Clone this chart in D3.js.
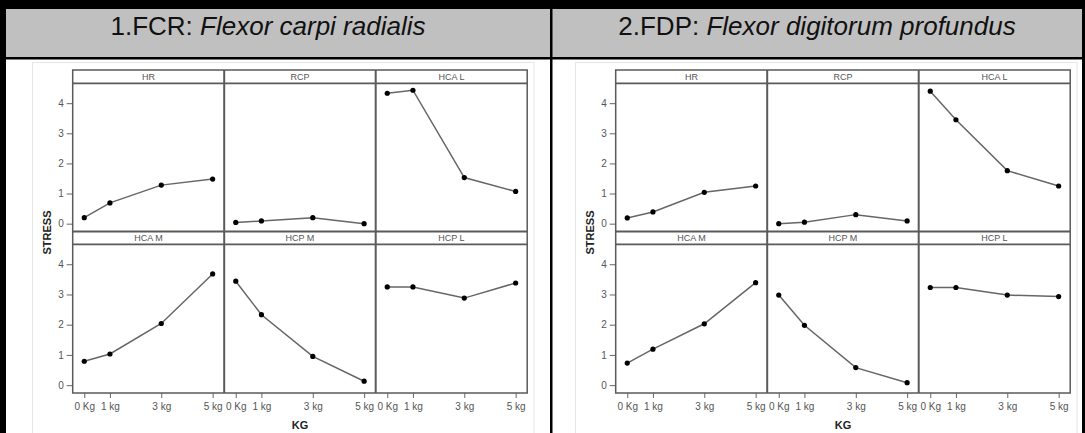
<!DOCTYPE html>
<html>
<head>
<meta charset="utf-8">
<script src="https://cdn.jsdelivr.net/npm/d3@7"></script>
<style>
  body { margin: 0; background: #fff; }
  svg { display: block; font-family: "Liberation Sans", Arial, sans-serif; }
</style>
</head>
<body>
<svg id="chart" width="1085" height="433"></svg>
<script>
// ---------- data ----------
const kgValues = [0, 1, 3, 5];
const kgTickLabels = ["0 Kg", "1 kg", "3 kg", "5 kg"];
const stressTicks = [0, 1, 2, 3, 4];
const panelNames = ["HR", "RCP", "HCA L", "HCA M", "HCP M", "HCP L"];

const chartCodes = ["1.FCR: ", "2.FDP: "];
const chartNames = ["Flexor carpi radialis", "Flexor digitorum profundus"];

// FCR: Flexor carpi radialis
const fcrHR   = [0.20, 0.69, 1.28, 1.48];
const fcrRCP  = [0.04, 0.09, 0.20, 0.00];
const fcrHCAL = [4.33, 4.43, 1.53, 1.07];
const fcrHCAM = [0.79, 1.03, 2.04, 3.68];
const fcrHCPM = [3.44, 2.33, 0.95, 0.13];
const fcrHCPL = [3.25, 3.25, 2.88, 3.38];

// FDP: Flexor digitorum profundus
const fdpHR   = [0.19, 0.39, 1.04, 1.25];
const fdpRCP  = [0.00, 0.05, 0.30, 0.09];
const fdpHCAL = [4.40, 3.45, 1.76, 1.25];
const fdpHCAM = [0.73, 1.19, 2.03, 3.39];
const fdpHCPM = [2.98, 1.98, 0.58, 0.08];
const fdpHCPL = [3.23, 3.23, 2.98, 2.93];

const chartSeries = [
  [fcrHR, fcrRCP, fcrHCAL, fcrHCAM, fcrHCPM, fcrHCPL],
  [fdpHR, fdpRCP, fdpHCAL, fdpHCAM, fdpHCPM, fdpHCPL]
];

// ---------- layout ----------
const svg = d3.select("#chart");
const W = 1085, H = 433;

// table frame
svg.append("rect").attr("x", 0).attr("y", 0).attr("width", W).attr("height", H).attr("fill", "#fff");
svg.append("rect").attr("x", 0).attr("y", 9).attr("width", W).attr("height", 48).attr("fill", "#c0c0c0");
svg.append("rect").attr("x", 0).attr("y", 0).attr("width", W).attr("height", 9).attr("fill", "#000");
svg.append("rect").attr("x", 0).attr("y", 57).attr("width", W).attr("height", 2.5).attr("fill", "#000");
svg.append("rect").attr("x", 0).attr("y", 0).attr("width", 6).attr("height", H).attr("fill", "#000");
svg.append("rect").attr("x", 550).attr("y", 0).attr("width", 2.5).attr("height", H).attr("fill", "#000");
svg.append("rect").attr("x", 1082).attr("y", 0).attr("width", 3).attr("height", H).attr("fill", "#000");

const headerCenters = [268, 817];
chartCodes.forEach((code, i) => {
  const t = svg.append("text")
    .attr("x", headerCenters[i]).attr("y", 35)
    .attr("text-anchor", "middle")
    .attr("font-size", 26).attr("fill", "#111");
  t.append("tspan").text(code);
  t.append("tspan").attr("font-style", "italic").text(chartNames[i]);
});

const chartOffsets = [0, 543];
const L0 = 72.7, colW = 151.5;
const rowTop = [83.3, 244.3], rowBot = [231.5, 393];
const stripTop = [70, 231.5];
const frameColor = "#5a5a5a";
const textColor = "#555";

chartOffsets.forEach((dx, ci) => {
  const g = svg.append("g").attr("transform", `translate(${dx},0)`);

  // image border of the statistical output
  g.append("rect").attr("x", 32.5).attr("y", 62.5).attr("width", 501.5).attr("height", 400)
    .attr("fill", "#fff").attr("stroke", "#e6e6e6").attr("stroke-width", 1);

  const R = L0 + 3 * colW;

  chartSeries[ci].forEach((vals, pi) => {
    const col = pi % 3, row = Math.floor(pi / 3);
    const x = d3.scaleLinear().domain([-0.45, 5.45]).range([L0 + col * colW, L0 + (col + 1) * colW]);
    const y = d3.scaleLinear().domain([-0.26, 4.66]).range([rowBot[row], rowTop[row]]);
    const pts = kgValues.map((k, j) => [k, vals[j]]);

    g.append("path")
      .attr("d", d3.line().x(d => x(d[0])).y(d => y(d[1]))(pts))
      .attr("fill", "none").attr("stroke", "#666").attr("stroke-width", 1.5);
    g.selectAll(null).data(pts).enter().append("circle")
      .attr("cx", d => x(d[0])).attr("cy", d => y(d[1])).attr("r", 2.6).attr("fill", "#000");

    // strip label
    g.append("text")
      .attr("x", L0 + (col + 0.5) * colW).attr("y", (stripTop[row] + rowTop[row]) / 2 + 3.3)
      .attr("text-anchor", "middle").attr("font-size", 9).attr("fill", textColor)
      .text(panelNames[pi]);

    // y axis on first column
    if (col === 0) {
      const ax = g.append("g").attr("transform", `translate(${L0},0)`)
        .call(d3.axisLeft(y).tickValues(stressTicks).tickFormat(d3.format("d")).tickSize(6).tickPadding(3));
      ax.select(".domain").remove();
      ax.selectAll("line").attr("stroke", "#666");
      ax.selectAll("text").attr("font-size", 10).attr("fill", textColor).attr("font-family", null);
    }
    // x axis on bottom row
    if (row === 1) {
      const ax = g.append("g").attr("transform", `translate(0,${rowBot[1]})`)
        .call(d3.axisBottom(x).tickValues(kgValues).tickFormat((d, j) => kgTickLabels[j]).tickSize(5).tickPadding(5));
      ax.select(".domain").remove();
      ax.selectAll("line").attr("stroke", "#666");
      ax.selectAll("text").attr("font-size", 10).attr("fill", textColor).attr("font-family", null);
    }
  });

  // frames
  g.append("rect").attr("x", L0).attr("y", stripTop[0]).attr("width", R - L0).attr("height", rowBot[1] - stripTop[0])
    .attr("fill", "none").attr("stroke", frameColor).attr("stroke-width", 1.5);
  [rowTop[0], rowBot[0], rowTop[1]].forEach(yy => {
    g.append("line").attr("x1", L0).attr("x2", R).attr("y1", yy).attr("y2", yy)
      .attr("stroke", frameColor).attr("stroke-width", 1.8);
  });
  [1, 2].forEach(c => {
    g.append("line").attr("x1", L0 + c * colW).attr("x2", L0 + c * colW).attr("y1", stripTop[0]).attr("y2", rowBot[1])
      .attr("stroke", frameColor).attr("stroke-width", 2);
  });

  // axis titles
  g.append("text").attr("transform", `translate(50.5,232.5) rotate(-90)`)
    .attr("text-anchor", "middle").attr("font-size", 11).attr("font-weight", "bold").attr("fill", "#222")
    .text("STRESS");
  g.append("text").attr("x", L0 + 1.5 * colW).attr("y", 429)
    .attr("text-anchor", "middle").attr("font-size", 11).attr("font-weight", "bold").attr("fill", "#222")
    .text("KG");
});
</script>
</body>
</html>
